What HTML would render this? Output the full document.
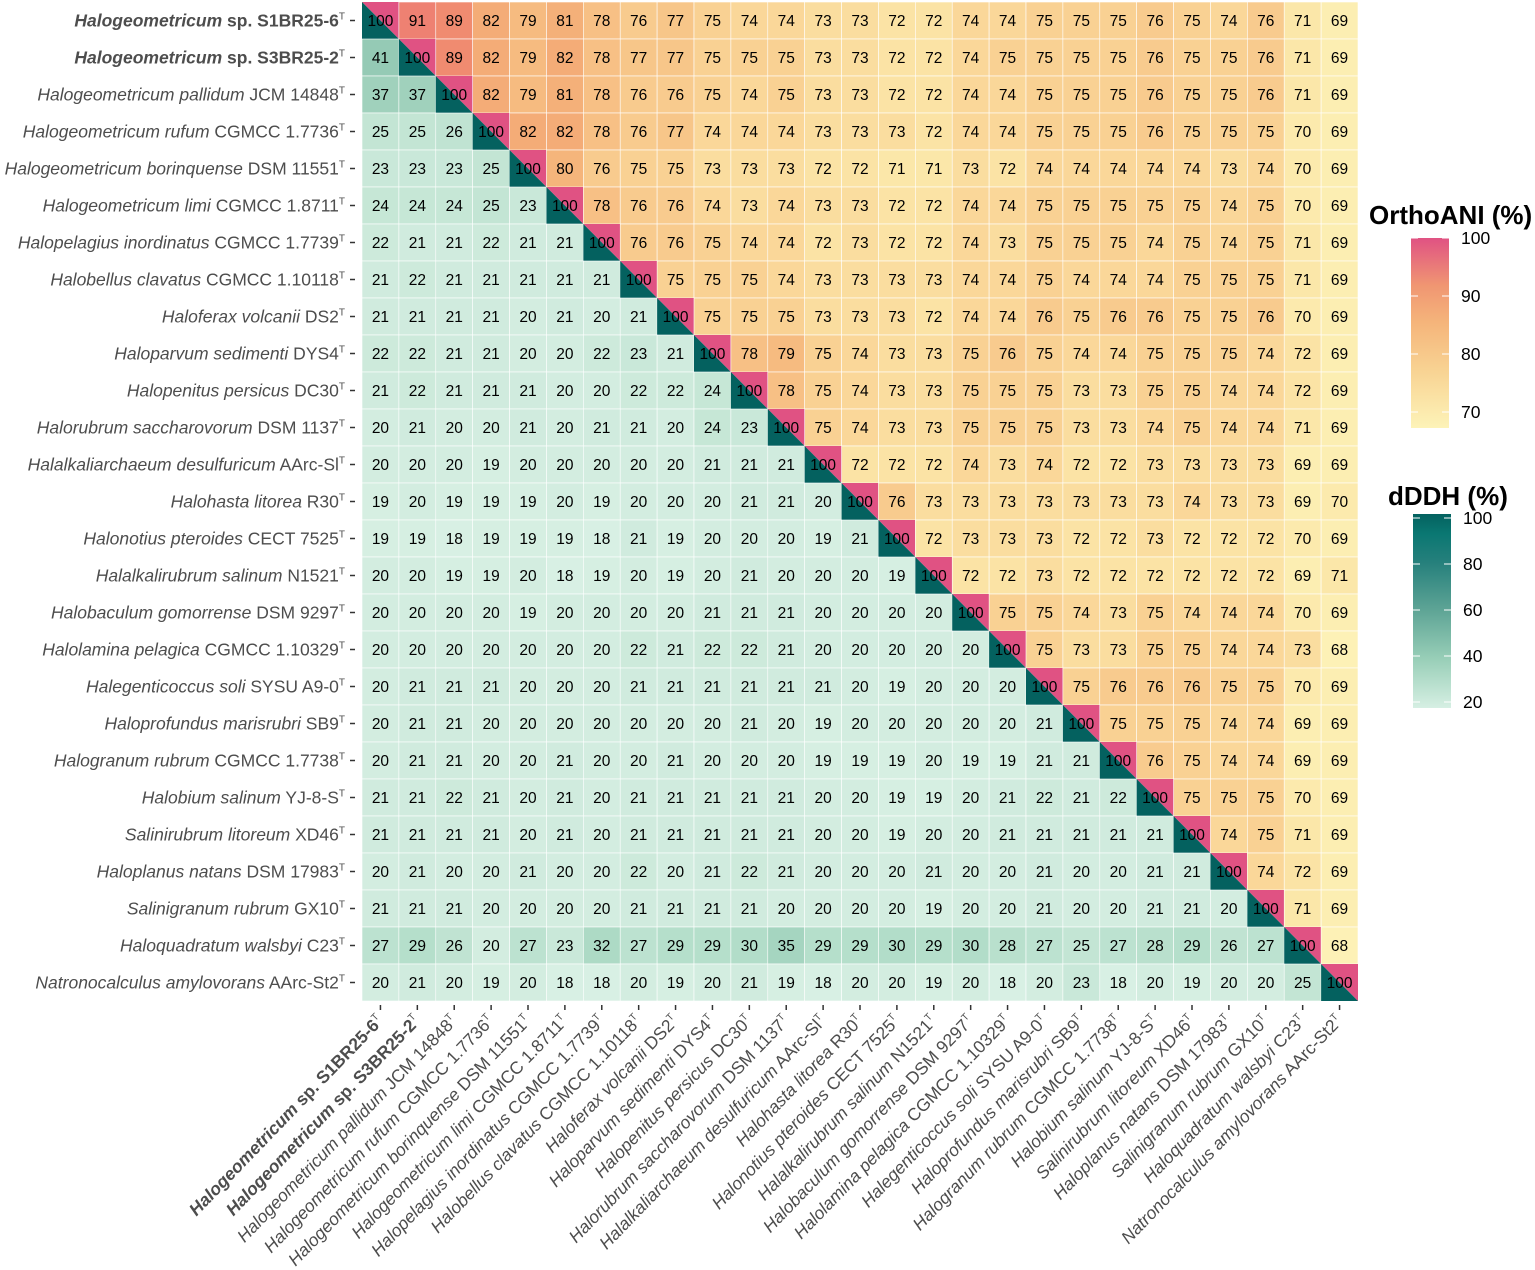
<!DOCTYPE html>
<html><head><meta charset="utf-8"><style>
html,body{margin:0;padding:0;background:#fff;}
svg{display:block;font-family:"Liberation Sans",sans-serif;}
</style></head><body>
<svg id="chart" width="1535" height="1270" viewBox="0 0 1535 1270" xmlns="http://www.w3.org/2000/svg">
<defs>
<linearGradient id="aniGrad" x1="0" y1="1" x2="0" y2="0">
<stop offset="0" stop-color="#fdf3b8"/><stop offset="0.3" stop-color="#f8d393"/><stop offset="0.55" stop-color="#f5b57b"/><stop offset="0.75" stop-color="#f09672"/><stop offset="1" stop-color="#e05283"/>
</linearGradient>
<linearGradient id="ddhGrad" x1="0" y1="1" x2="0" y2="0">
<stop offset="0" stop-color="#d6efe3"/><stop offset="0.25" stop-color="#99cfb8"/><stop offset="0.5" stop-color="#5fa596"/><stop offset="0.75" stop-color="#26807c"/><stop offset="0.9" stop-color="#0a7772"/><stop offset="1" stop-color="#04615f"/>
</linearGradient>
</defs>
<g id="cells"></g>
<g id="rowlabels"></g>
<g id="collabels"></g>
<g>
<text x="1369" y="224" font-size="26" font-weight="bold" fill="#000">OrthoANI (%)</text>
<rect x="1411" y="238" width="38" height="190" fill="url(#aniGrad)"/>
</g>
<g>
<text x="1388" y="505" font-size="26" font-weight="bold" fill="#000">dDDH (%)</text>
<rect x="1413" y="514" width="38" height="194" fill="url(#ddhGrad)"/>
</g>
<g id="legticks"></g>
</svg>
<script>
const labelsItalic = ["Halogeometricum","Halogeometricum","Halogeometricum pallidum","Halogeometricum rufum","Halogeometricum borinquense","Halogeometricum limi","Halopelagius inordinatus","Halobellus clavatus","Haloferax volcanii","Haloparvum sedimenti","Halopenitus persicus","Halorubrum saccharovorum","Halalkaliarchaeum desulfuricum","Halohasta litorea","Halonotius pteroides","Halalkalirubrum salinum","Halobaculum gomorrense","Halolamina pelagica","Halegenticoccus soli","Haloprofundus marisrubri","Halogranum rubrum","Halobium salinum","Salinirubrum litoreum","Haloplanus natans","Salinigranum rubrum","Haloquadratum walsbyi","Natronocalculus amylovorans"];
const labelsStrain = [" sp. S1BR25-6"," sp. S3BR25-2"," JCM 14848"," CGMCC 1.7736"," DSM 11551"," CGMCC 1.8711"," CGMCC 1.7739"," CGMCC 1.10118"," DS2"," DYS4"," DC30"," DSM 1137"," AArc-Sl"," R30"," CECT 7525"," N1521"," DSM 9297"," CGMCC 1.10329"," SYSU A9-0"," SB9"," CGMCC 1.7738"," YJ-8-S"," XD46"," DSM 17983"," GX10"," C23"," AArc-St2"];
const labelsBold = [true,true];
const dataRows = [
[100,91,89,82,79,81,78,76,77,75,74,74,73,73,72,72,74,74,75,75,75,76,75,74,76,71,69],
[41,100,89,82,79,82,78,77,77,75,75,75,73,73,72,72,74,75,75,75,75,76,75,75,76,71,69],
[37,37,100,82,79,81,78,76,76,75,74,75,73,73,72,72,74,74,75,75,75,76,75,75,76,71,69],
[25,25,26,100,82,82,78,76,77,74,74,74,73,73,73,72,74,74,75,75,75,76,75,75,75,70,69],
[23,23,23,25,100,80,76,75,75,73,73,73,72,72,71,71,73,72,74,74,74,74,74,73,74,70,69],
[24,24,24,25,23,100,78,76,76,74,73,74,73,73,72,72,74,74,75,75,75,75,75,74,75,70,69],
[22,21,21,22,21,21,100,76,76,75,74,74,72,73,72,72,74,73,75,75,75,74,75,74,75,71,69],
[21,22,21,21,21,21,21,100,75,75,75,74,73,73,73,73,74,74,75,74,74,74,75,75,75,71,69],
[21,21,21,21,20,21,20,21,100,75,75,75,73,73,73,72,74,74,76,75,76,76,75,75,76,70,69],
[22,22,21,21,20,20,22,23,21,100,78,79,75,74,73,73,75,76,75,74,74,75,75,75,74,72,69],
[21,22,21,21,21,20,20,22,22,24,100,78,75,74,73,73,75,75,75,73,73,75,75,74,74,72,69],
[20,21,20,20,21,20,21,21,20,24,23,100,75,74,73,73,75,75,75,73,73,74,75,74,74,71,69],
[20,20,20,19,20,20,20,20,20,21,21,21,100,72,72,72,74,73,74,72,72,73,73,73,73,69,69],
[19,20,19,19,19,20,19,20,20,20,21,21,20,100,76,73,73,73,73,73,73,73,74,73,73,69,70],
[19,19,18,19,19,19,18,21,19,20,20,20,19,21,100,72,73,73,73,72,72,73,72,72,72,70,69],
[20,20,19,19,20,18,19,20,19,20,21,20,20,20,19,100,72,72,73,72,72,72,72,72,72,69,71],
[20,20,20,20,19,20,20,20,20,21,21,21,20,20,20,20,100,75,75,74,73,75,74,74,74,70,69],
[20,20,20,20,20,20,20,22,21,22,22,21,20,20,20,20,20,100,75,73,73,75,75,74,74,73,68],
[20,21,21,21,20,20,20,21,21,21,21,21,21,20,19,20,20,20,100,75,76,76,76,75,75,70,69],
[20,21,21,20,20,20,20,20,20,20,21,20,19,20,20,20,20,20,21,100,75,75,75,74,74,69,69],
[20,21,21,20,20,21,20,20,21,20,20,20,19,19,19,20,19,19,21,21,100,76,75,74,74,69,69],
[21,21,22,21,20,21,20,21,21,21,21,21,20,20,19,19,20,21,22,21,22,100,75,75,75,70,69],
[21,21,21,21,20,21,20,21,21,21,21,21,20,20,19,20,20,21,21,21,21,21,100,74,75,71,69],
[20,21,20,20,21,20,20,22,20,21,22,21,20,20,20,21,20,20,21,20,20,21,21,100,74,72,69],
[21,21,21,20,20,20,20,21,21,21,21,20,20,20,20,19,20,20,21,20,20,21,21,20,100,71,69],
[27,29,26,20,27,23,32,27,29,29,30,35,29,29,30,29,30,28,27,25,27,28,29,26,27,100,68],
[20,21,20,19,20,18,18,20,19,20,21,19,18,20,20,19,20,18,20,23,18,20,19,20,20,25,100]
];
const aniTicks = [70,80,90,100];
const ddhTicks = [20,40,60,80,100];

const NS="http://www.w3.org/2000/svg";
const X0=362, Y0=2, CW=(1358-362)/27, CH=(1001-2)/27;
const xPos=j=>X0+j*CW, yPos=i=>Y0+i*CH;
function mk(t,a,p){const e=document.createElementNS(NS,t);for(const k in a)e.setAttribute(k,a[k]);if(p)p.appendChild(e);return e;}
function hex(h){return [1,3,5].map(i=>parseInt(h.substr(i,2),16));}
function interp(stops,v){ if(v<=stops[0][0])return stops[0][1]; for(let k=1;k<stops.length;k++){if(v<=stops[k][0]){const [a,ca]=stops[k-1],[b,cb]=stops[k];const t=(v-a)/(b-a);const A=hex(ca),B=hex(cb);return 'rgb('+A.map((x,i)=>Math.round(x+(B[i]-x)*t)).join(',')+')';}} return stops[stops.length-1][1];}
const aniStops=[[67.5,'#fdf3b8'],[72,'#fbe3a5'],[75,'#f9d193'],[80,'#f5b57b'],[85,'#f29e72'],[90,'#ef8670'],[95,'#e96d78'],[100,'#e05283']];
const ddhStops=[[18,'#d8f0e4'],[20,'#d3ede0'],[25,'#c3e5d4'],[30,'#b2ddc9'],[40,'#98ccb7'],[60,'#5fa596'],[80,'#26807c'],[100,'#04615f']];
const cells=document.getElementById('cells');
for(let i=0;i<27;i++)for(let j=0;j<27;j++){
  const v=dataRows[i][j], x=xPos(j), y=yPos(i);
  if(i===j){
    const p1=mk('polygon',{points:`${x},${y} ${x+CW},${y} ${x+CW},${y+CH}`,fill:'#e05283'},cells);
    
    
    const p2=mk('polygon',{points:`${x},${y} ${x},${y+CH} ${x+CW},${y+CH}`,fill:'#04615f'},cells);
    
    
  } else {
    const r=mk('rect',{x:x,y:y,width:CW,height:CH,fill:j>i?interp(aniStops,v):interp(ddhStops,v),stroke:'#fff','stroke-width':0.6},cells);
    
    
  }
  const t=mk('text',{x:x+CW/2,y:y+CH/2+5.5,'text-anchor':'middle','font-size':15.5,fill:'#000'},cells);
  
  
  t.textContent=v;
}
function fillLabel(t,k){
  const b=labelsBold[k]||false;
  const s1=mk('tspan',{'font-style':'italic','font-weight':b?'bold':'normal'},t);s1.textContent=labelsItalic[k];
  const s2=mk('tspan',{'font-weight':b?'bold':'normal'},t);s2.textContent=labelsStrain[k];
  const s3=mk('tspan',{dy:-7,'font-size':10},t);s3.textContent='T';
}
const rl=document.getElementById('rowlabels');
for(let i=0;i<27;i++){
  const cy=yPos(i)+CH/2;
  const tk=mk('line',{x1:350,x2:355,y1:cy,y2:cy,stroke:'#333','stroke-width':1.5},rl);
  
  
  const t=mk('text',{x:345,y:cy+6,'text-anchor':'end','font-size':17.5,fill:'#4d4d4d'},rl);
  
  
  fillLabel(t,i);
}
const cl=document.getElementById('collabels');
for(let j=0;j<27;j++){
  const cx=xPos(j)+CW/2;
  const tk=mk('line',{x1:cx,x2:cx,y1:1005,y2:1010,stroke:'#333','stroke-width':1.5},cl);
  
  
  const t=mk('text',{x:cx+4,y:1022,'text-anchor':'end','font-size':17.5,fill:'#4d4d4d',transform:`rotate(-46 ${cx+4} 1022)`},cl);
  
  
  fillLabel(t,j);
}
const lt=document.getElementById('legticks');
const aniY=v=>238+(100-v)*5.8, ddhY=v=>518+(100-v)*2.3;
aniTicks.forEach(v=>{
  const y=aniY(v);
  mk('line',{x1:1411,x2:1418,y1:y,y2:y,stroke:'#fff','stroke-width':1},lt);
  mk('line',{x1:1442,x2:1449,y1:y,y2:y,stroke:'#fff','stroke-width':1},lt);
  const t=mk('text',{x:1461,y:y+6,'font-size':17.5,fill:'#000'},lt);
  
  
  t.textContent=v;
});
ddhTicks.forEach(v=>{
  const y=ddhY(v);
  mk('line',{x1:1413,x2:1420,y1:y,y2:y,stroke:'#fff','stroke-width':1},lt);
  mk('line',{x1:1444,x2:1451,y1:y,y2:y,stroke:'#fff','stroke-width':1},lt);
  const t=mk('text',{x:1463,y:y+6,'font-size':17.5,fill:'#000'},lt);
  
  
  t.textContent=v;
});
</script>
</body></html>
